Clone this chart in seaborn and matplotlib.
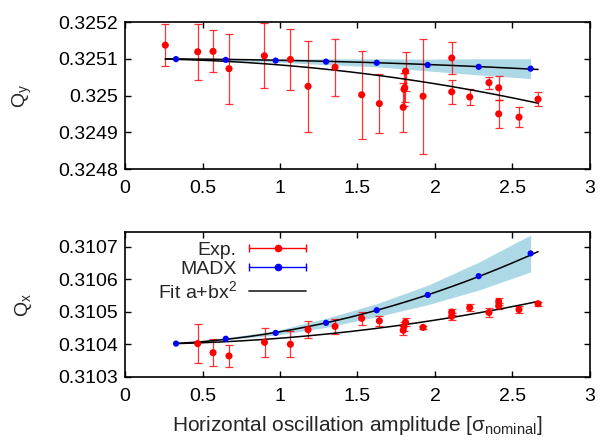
import numpy as np
import pandas as pd
import matplotlib
matplotlib.use("Agg")
import matplotlib.pyplot as plt
import seaborn as sns
from matplotlib.legend_handler import HandlerBase
from matplotlib.lines import Line2D
from matplotlib.ticker import FuncFormatter

# ---------------- data ----------------
# Top panel: Q_y
qy_exp_x = [0.26, 0.469, 0.568, 0.671, 0.899, 1.067, 1.181, 1.355, 1.527, 1.641,
            1.81, 1.805, 1.80, 1.795, 1.923, 2.108, 2.108, 2.224, 2.348, 2.411,
            2.411, 2.542, 2.665]
qy_exp_y = [0.325137, 0.325119, 0.325120, 0.325073, 0.325108, 0.325098, 0.325025,
            0.325077, 0.325002, 0.324978, 0.325066, 0.325021, 0.325017, 0.324968,
            0.324998, 0.325102, 0.325010, 0.324996, 0.325035, 0.325021, 0.324950,
            0.324941, 0.324990]
qy_exp_err = [0.000058, 0.000076, 0.000057, 0.000095, 0.000088, 0.000084, 0.000124,
              0.000077, 0.000119, 0.000081, 0.000053, 0.000040, 0.000045, 0.000067,
              0.000157, 0.000044, 0.000032, 0.000023, 0.000016, 0.000033, 0.000038,
              0.000027, 0.000019]

madx_x = [0.329, 0.65, 0.972, 1.297, 1.624, 1.953, 2.282, 2.617]
qy_madx = [0.325099, 0.325097, 0.325095, 0.325092, 0.325089, 0.325083, 0.325078, 0.325073]
qy_madx_band = [0.0, 0.000002, 0.000004, 0.000008, 0.000011, 0.000016, 0.000022, 0.000027]

qy_fit_exp = (0.3251002, -1.706e-5)   # a, b
qy_fit_madx = (0.3251, -4.1e-6)

# Bottom panel: Q_x
qx_exp_x = [0.469, 0.568, 0.671, 0.9, 1.067, 1.181, 1.355, 1.527, 1.641, 1.81,
            1.80, 1.795, 1.923, 2.108, 2.108, 2.224, 2.348, 2.411, 2.411, 2.542, 2.665]
qx_exp_y = [0.310402, 0.310374, 0.310364, 0.310406, 0.310400, 0.310445, 0.310455,
            0.310480, 0.310472, 0.310468, 0.310455, 0.310443, 0.310452, 0.310499,
            0.310486, 0.310513, 0.310498, 0.310532, 0.310518, 0.310507, 0.310525]
qx_exp_err = [0.000060, 0.000042, 0.000035, 0.000045, 0.000040, 0.000026, 0.000023,
              0.000020, 0.000015, 0.000013, 0.000013, 0.000013, 0.000005, 0.000010,
              0.000010, 0.000010, 0.000015, 0.000010, 0.000010, 0.000010, 0.000006]

qx_madx = [0.310402, 0.310417, 0.310435, 0.310466, 0.310505, 0.310552, 0.310610, 0.310680]
qx_madx_band = [0.0, 0.000003, 0.000007, 0.000014, 0.000020, 0.000030, 0.000043, 0.000057]

qx_fit_exp = (0.3104, 1.859e-5)
qx_fit_madx = (0.310398, 4.047e-5)

x_ticks = [0, 0.5, 1, 1.5, 2, 2.5, 3]
qy_ticks = [0.3248, 0.3249, 0.325, 0.3251, 0.3252]
qx_ticks = [0.3103, 0.3104, 0.3105, 0.3106, 0.3107]

legend_labels = ["Exp.", "MADX", "Fit a+bx$^{2}$"]

# ---------------- style ----------------
sns.set_theme(style="ticks")
plt.rcParams["font.family"] = ["Liberation Sans", "DejaVu Sans"]
plt.rcParams["mathtext.fontset"] = "custom"
plt.rcParams["mathtext.rm"] = "Liberation Sans"
plt.rcParams["mathtext.it"] = "Liberation Sans:italic"
plt.rcParams["mathtext.bf"] = "Liberation Sans:bold"
plt.rcParams["axes.linewidth"] = 1.2

RED = "#ff0000"
BLUE = "#0000ff"
BAND = "#add8e6"
FS = 14

fig = plt.figure(figsize=(6.11, 4.40), dpi=100)
ax_top = fig.add_axes([0.2046, 0.6159, 0.7610, 0.3341])
ax_bot = fig.add_axes([0.2046, 0.1439, 0.7610, 0.3280])


def fit_curve(xs, coeffs):
    xx = np.linspace(min(xs), max(xs), 200)
    return pd.DataFrame({"x": xx, "y": coeffs[0] + coeffs[1] * xx ** 2})


def draw_panel(ax, ex, ey, eerr, my, band, fit_e, fit_m, all_x):
    my = np.asarray(my)
    band = np.asarray(band)
    ax.fill_between(madx_x, my - band, my + band, color=BAND, lw=0, zorder=1)
    ax.errorbar(ex, ey, yerr=eerr, fmt="none", ecolor=RED, elinewidth=0.9,
                capsize=2.6, capthick=0.9, alpha=0.8, zorder=2)
    sns.lineplot(data=fit_curve(all_x, fit_e), x="x", y="y", ax=ax, color="black",
                 lw=1.1, zorder=3)
    sns.lineplot(data=fit_curve(all_x, fit_m), x="x", y="y", ax=ax, color="black",
                 lw=1.1, zorder=3)
    sns.scatterplot(x=ex, y=ey, ax=ax, color=RED, s=26, edgecolor="none", zorder=4)
    sns.scatterplot(x=madx_x, y=my, ax=ax, color=BLUE, s=20, edgecolor="none", zorder=5)
    ax.set_xlim(0, 3)
    ax.set_xticks(x_ticks)
    ax.xaxis.set_major_formatter(FuncFormatter(lambda v, p: f"{v:g}"))
    ax.yaxis.set_major_formatter(FuncFormatter(lambda v, p: f"{v:g}"))
    ax.tick_params(direction="in", length=4, width=1.0, top=True, right=True,
                   labelsize=FS, colors="black")
    ax.tick_params(axis="x", pad=8)
    ax.tick_params(axis="y", pad=5)
    ax.set_xlabel("")
    for s in ax.spines.values():
        s.set_color("black")
        s.set_linewidth(1.2)


draw_panel(ax_top, qy_exp_x, qy_exp_y, qy_exp_err, qy_madx, qy_madx_band,
           qy_fit_exp, qy_fit_madx, qy_exp_x + madx_x)
ax_top.set_ylim(0.3248, 0.3252)
ax_top.set_yticks(qy_ticks)
ax_top.set_ylabel("Q$_\\mathregular{y}$", fontsize=FS)
ax_top.yaxis.set_label_coords(-0.195, 0.5)

draw_panel(ax_bot, qx_exp_x, qx_exp_y, qx_exp_err, qx_madx, qx_madx_band,
           qx_fit_exp, qx_fit_madx, qx_exp_x + madx_x)
ax_bot.set_ylim(0.3103, 0.310745)
ax_bot.set_yticks(qx_ticks)
ax_bot.set_ylabel("Q$_\\mathregular{x}$", fontsize=FS)
ax_bot.yaxis.set_label_coords(-0.195, 0.5)
ax_bot.set_xlabel("Horizontal oscillation amplitude [σ$_\\mathregular{nominal}$]", fontsize=15)
ax_bot.xaxis.set_label_coords(0.5, -0.26)


# ---------------- legend (gnuplot style: text left, sample right) ----------------
class CapLineHandler(HandlerBase):
    def __init__(self, color, with_caps=True):
        super().__init__()
        self.color = color
        self.with_caps = with_caps

    def create_artists(self, legend, orig_handle, xdescent, ydescent, width, height,
                       fontsize, trans):
        y = height / 2 - ydescent
        x0, x1 = -xdescent, width - xdescent
        arts = [Line2D([x0, x1], [y, y], color=self.color, lw=1.0 if self.with_caps else 1.3)]
        if self.with_caps:
            arts.append(Line2D([x0, x1], [y, y], ls="none", marker="|", ms=6,
                               mew=1.0, color=self.color))
            arts.append(Line2D([(x0 + x1) / 2], [y], ls="none", marker="o", ms=4.5,
                               color=self.color))
        for a in arts:
            a.set_transform(trans)
        return arts


h_exp = Line2D([], [], color=RED)
h_madx = Line2D([], [], color=BLUE)
h_fit = Line2D([], [], color="black")
ax_bot.legend([h_exp, h_madx, h_fit], legend_labels,
              handler_map={h_exp: CapLineHandler(RED), h_madx: CapLineHandler(BLUE),
                           h_fit: CapLineHandler("#333333", with_caps=False)},
              loc="upper right", bbox_to_anchor=(0.389, 0.94), frameon=False,
              markerfirst=False, fontsize=FS, handlelength=2.9, handletextpad=0.67,
              labelspacing=0.1, borderpad=0, borderaxespad=0)

fig.savefig("out.png", dpi=100)
